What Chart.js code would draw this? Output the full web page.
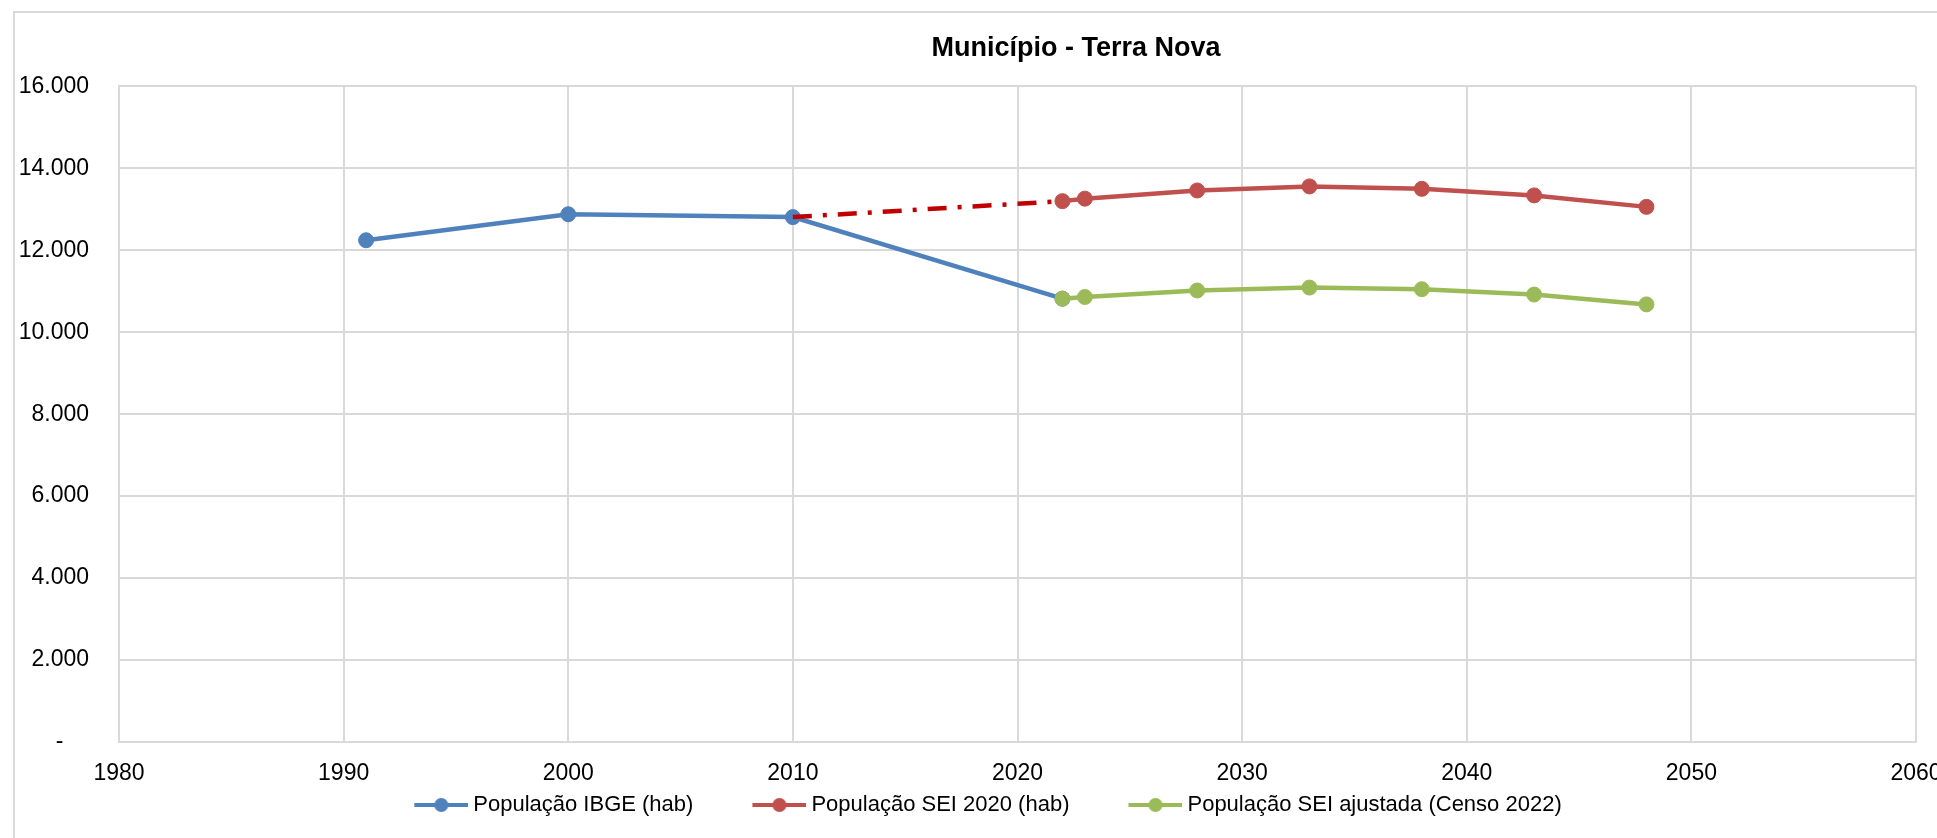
<!DOCTYPE html>
<html lang="pt-BR">
<head>
<meta charset="utf-8">
<title>Município - Terra Nova</title>
<script src="https://cdn.jsdelivr.net/npm/chart.js@4.4.1/dist/chart.umd.min.js"></script>
<style>
    html, body {
        margin: 0;
        width: 1937px;
        height: 838px;
        overflow: hidden;
        background: #ffffff;
    }
    .frame {
        position: absolute;
        left: 13px;
        top: 11px;
        width: 2200px;
        height: 1000px;
        border: 2px solid #d9d9d9;
        box-sizing: border-box;
    }
    #myChart {
        position: absolute;
        left: 0;
        top: 0;
    }
</style>
</head>
<body>
<div class="frame"></div>
<canvas id="myChart" width="2152" height="838"></canvas>

<script>
"use strict"

// Data

const ibgeYears = [1991, 2000, 2010, 2022];
const ibgeValues = [12245, 12880, 12810, 10820];

// first point is the 2010 census value, joined with a dash-dot line
const sei2020Years = [2010, 2022, 2023, 2028, 2033, 2038, 2043, 2048];
const sei2020Values = [12810, 13200, 13260, 13460, 13560, 13500, 13340, 13060];

const seiAjustadaYears = [2022, 2023, 2028, 2033, 2038, 2043, 2048];
const seiAjustadaValues = [10820, 10860, 11020, 11090, 11050, 10920, 10680];

const seriesNames = ['População IBGE (hab)', 'População SEI 2020 (hab)', 'População SEI ajustada (Censo 2022)'];
const seriesColors = ['#4F81BD', '#C0504D', '#9BBB59'];

const yTicks = [0, 2000, 4000, 6000, 8000, 10000, 12000, 14000, 16000];
const yTickLabels = ['-\u2007\u2007', '2.000', '4.000', '6.000', '8.000', '10.000', '12.000', '14.000', '16.000'];

const FONT = "'Liberation Sans Narrow', 'Arial Narrow', 'Liberation Sans', Arial, sans-serif";

function toPoints(xs, ys) {
    return xs.map((x, i) => ({ x: x, y: ys[i] }));
}

// Legend symbol: line with a dot, like the spreadsheet legend
function legendSymbol(color) {
    const c = document.createElement('canvas');
    c.width = 109;
    c.height = 16;
    const g = c.getContext('2d');
    g.strokeStyle = color;
    g.lineWidth = 4;
    g.beginPath();
    g.moveTo(55, 8);
    g.lineTo(109, 8);
    g.stroke();
    g.fillStyle = color;
    g.beginPath();
    g.arc(82, 8, 7, 0, Math.PI * 2);
    g.fill();
    return c;
}
const legendSymbols = seriesColors.map(legendSymbol);

// the spreadsheet legend sits a bit left of the plot centre
const legendShift = {
    id: 'legendShift',
    afterLayout(chart) {
        chart.legend.left -= 54;
        chart.legend.right -= 54;
    }
};

const ctx = document.getElementById('myChart').getContext('2d');

const myChart = new Chart(ctx, {
    type: 'line',
    data: {
        datasets: [
            {
                label: seriesNames[0],
                data: toPoints(ibgeYears, ibgeValues),
                borderColor: seriesColors[0],
                backgroundColor: seriesColors[0],
                borderWidth: 4.5,
                pointRadius: 7.5,
                pointBorderWidth: 1,
                pointBackgroundColor: seriesColors[0],
                order: 3,
            },
            {
                label: seriesNames[1],
                data: toPoints(sei2020Years, sei2020Values),
                borderColor: seriesColors[1],
                backgroundColor: seriesColors[1],
                borderWidth: 4.5,
                pointRadius: sei2020Years.map((y, i) => i === 0 ? 0 : 7.5),
                pointBorderWidth: sei2020Years.map((y, i) => i === 0 ? 0 : 1),
                pointBackgroundColor: seriesColors[1],
                segment: {
                    borderColor: c => c.p0DataIndex === 0 ? '#C00000' : undefined,
                    borderDash: c => c.p0DataIndex === 0 ? [19, 11, 4, 11] : undefined,
                },
                order: 2,
            },
            {
                label: seriesNames[2],
                data: toPoints(seiAjustadaYears, seiAjustadaValues),
                borderColor: seriesColors[2],
                backgroundColor: seriesColors[2],
                borderWidth: 4.5,
                pointRadius: 7.5,
                pointBorderWidth: 1,
                pointBackgroundColor: seriesColors[2],
                order: 1,
            }
        ],
    },
    plugins: [legendShift],
    options: {
        responsive: false,
        animation: false,
        layout: {
            padding: { left: 0, right: 0, top: 0, bottom: 12 }
        },
        plugins: {
            title: {
                display: true,
                text: 'Município - Terra Nova',
                color: '#000',
                font: { family: FONT, size: 27, weight: 'bold' },
                padding: { top: 32, bottom: 22 },
            },
            legend: {
                position: 'bottom',
                fullSize: false,
                labels: {
                    color: '#000',
                    font: { family: FONT, size: 22 },
                    usePointStyle: true,
                    pointStyleWidth: 97,
                    padding: 10,
                    sort: (a, b) => a.datasetIndex - b.datasetIndex,
                    generateLabels: function(chart) {
                        const items = Chart.defaults.plugins.legend.labels.generateLabels(chart);
                        items.forEach(item => {
                            item.pointStyle = legendSymbols[item.datasetIndex];
                        });
                        return items;
                    }
                }
            },
            tooltip: { enabled: false }
        },
        scales: {
            x: {
                type: 'linear',
                min: 1980,
                max: 2060,
                afterFit: function(scale) {
                    scale.height = 42;
                },
                ticks: {
                    stepSize: 10,
                    padding: 18,
                    color: '#000',
                    font: { family: FONT, size: 23 },
                    callback: function(value) {
                        return String(value);
                    }
                },
                grid: { color: '#d9d9d9', lineWidth: 2, drawTicks: false },
                border: { color: '#d9d9d9', width: 2 },
            },
            y: {
                min: 0,
                max: 16000,
                afterFit: function(scale) {
                    scale.width = 119;
                },
                ticks: {
                    stepSize: 2000,
                    padding: 30,
                    color: '#000',
                    font: { family: FONT, size: 23 },
                    callback: function(value) {
                        const i = yTicks.indexOf(value);
                        return i >= 0 ? yTickLabels[i] : '';
                    }
                },
                grid: { color: '#d9d9d9', lineWidth: 2, drawTicks: false },
                border: { color: '#d9d9d9', width: 2 },
            },
            // empty right box so the title centres on the full frame
            spacer: {
                type: 'linear',
                position: 'right',
                display: true,
                afterFit: function(scale) {
                    scale.width = 236;
                },
                ticks: { display: false },
                grid: { display: false, drawTicks: false },
                border: { display: false },
            }
        }
    }
});
</script>
</body>
</html>
